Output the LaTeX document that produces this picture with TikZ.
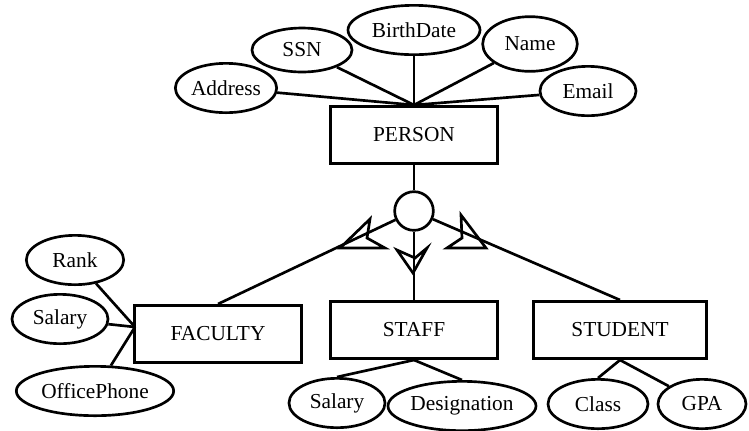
\documentclass[tikz,border=0pt]{standalone}
\usepackage{fontspec}
\setmainfont{Liberation Serif}
\usetikzlibrary{shapes.geometric}

\begin{document}
\begin{tikzpicture}[x=0.75pt,y=-0.75pt,
  line width=2pt,
  font=\fontsize{16}{19}\selectfont,
  entity/.style={draw, rectangle, minimum width=125pt, minimum height=43pt},
  attr/.style={draw, ellipse, inner sep=0pt, minimum height=37pt},
  isa/.style={draw, circle, minimum size=29pt, inner sep=0pt},
  subset/.style={line join=miter}]
  \useasboundingbox (0,0) rectangle (749,430);

  % entities
  \node[entity] (person) at (414,135) {PERSON};
  \node[entity] (faculty) at (218,334) {FACULTY};
  \node[entity] (staff) at (414,330) {STAFF};
  \node[entity, minimum width=130pt] (student) at (620,330) {STUDENT};

  % specialisation circle
  \node[isa] (isa) at (414,211) {};

  % person attributes
  \node[attr, minimum width=76pt] (address) at (226,88) {Address};
  \node[attr, minimum width=75pt, minimum height=33pt] (ssn) at (302,50) {SSN};
  \node[attr, minimum width=99pt] (birth) at (414,30) {BirthDate};
  \node[attr, minimum width=71pt, minimum height=41pt] (name) at (530,44) {Name};
  \node[attr, minimum width=72pt] (email) at (588,91) {Email};

  % faculty attributes
  \node[attr, minimum width=73pt] (rank) at (75,260) {Rank};
  \node[attr, minimum width=72pt] (fsalary) at (60,319) {Salary};
  \node[attr, minimum width=118pt] (phone) at (95,391) {OfficePhone};

  % staff attributes
  \node[attr, minimum width=72pt] (ssalary) at (337,403) {Salary};
  \node[attr, minimum width=111pt] (desig) at (462,406) {Designation};

  % student attributes
  \node[attr, minimum width=75pt] (class) at (598,404) {Class};
  \node[attr, minimum width=66pt] (gpa) at (702,404) {GPA};

  \coordinate (facjoin) at (135,327);

  % attribute links
  \foreach \a in {address,ssn,birth,name,email}
    \draw (\a) -- (person.north);
  \foreach \a in {rank,fsalary,phone}
    \draw (\a) -- (facjoin);
  \draw (staff.south) -- (ssalary.north);
  \draw (staff.south) -- (desig.north);
  \draw (student.south) -- (class.north);
  \draw (student.south) -- (gpa);

  % generalisation
  \draw (person.south) -- (isa.north);
  \draw (isa) -- (faculty.north);
  \draw (isa.south) -- (staff.north);
  \draw (isa) -- (student.north);

  % subset marks
  \draw[subset] (340,248) -- (370,219) -- (367,238) -- (385,248) -- cycle;
  \draw[subset] (413,273) -- (397,250) -- (415,258) -- (427,248) -- cycle;
  \draw[subset] (486,248) -- (461,215) -- (462,238) -- (447,248) -- cycle;
\end{tikzpicture}
\end{document}
